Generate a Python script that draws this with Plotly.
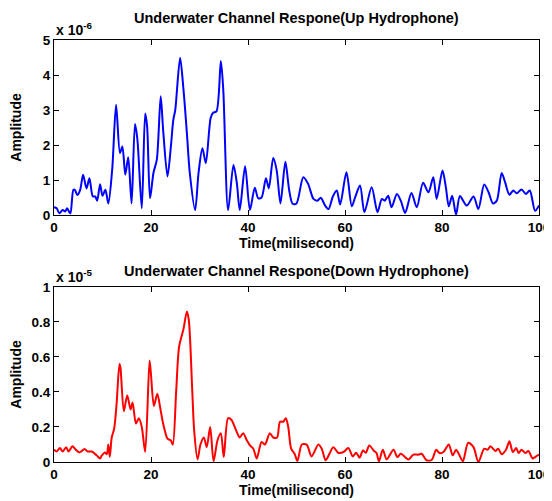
import plotly.graph_objects as go
from plotly.subplots import make_subplots

# Up hydrophone (units of 1e-6)
up_t = [0, 0.55, 1.1, 1.8, 2.3, 2.7, 3.2, 3.4, 4.0, 4.3, 4.8, 5.4, 6.0, 6.7, 7.3, 8.0, 8.5, 8.9, 9.5, 10.0,
        10.6, 11.2, 12.0, 12.8, 13.6, 14.1, 14.7, 15.3, 16.0, 16.7, 17.2, 18.1, 18.8, 19.2, 19.8, 20.5,
        21.2, 22.0, 22.5, 23.4, 24.1, 24.6, 25.0, 26.0, 26.7, 27.4, 28.0, 29.1, 29.8, 30.6, 31.3, 32.3,
        32.8, 33.5, 34.4, 34.9, 35.9, 37.0, 37.7, 38.3, 39.4, 40.4, 41.4, 42.1, 42.8, 43.7, 44.3, 45.2,
        45.9, 46.7, 47.7, 48.5, 49.2, 50.0, 51.4, 52.4, 53.5, 54.3, 55.0, 55.9, 56.6, 57.5, 58.3, 59.0,
        60.3, 61.4, 62.1, 63.1, 64.0, 65.5, 66.7, 67.6, 68.2, 68.9, 69.6, 70.7, 71.5, 72.4, 73.7, 74.8,
        76.1, 77.2, 78.2, 78.9, 80.1, 80.8, 81.4, 82.1, 82.9, 83.7, 85.1, 86.5, 87.5, 88.7, 89.6, 90.5,
        91.3, 92.3, 93.0, 93.9, 94.7, 95.4, 96.4, 97.3, 98.1, 99.2, 100]
up_amp = [0.22, 0.19, 0.05, 0.14, 0.10, 0.19, 0.07, 0.05, 0.72, 0.72, 0.57, 0.72, 1.15, 0.76, 1.05, 0.53, 0.53, 0.41, 0.88, 0.55,
          0.72, 0.33, 1.3, 3.15, 1.77, 1.96, 1.15, 1.65, 0.33, 2.6, 2.15, 0.19, 2.9, 2.53, 0.48, 1.2,
          1.58, 3.39, 2.44, 1.1, 1.96, 2.72, 3.0, 4.49, 3.58, 2.34, 1.2, 0.14, 1.2, 1.91, 1.48, 2.77,
          2.92, 2.96, 4.4, 3.58, 0.14, 1.43, 0.91, 0.14, 1.39, 0.14, 0.78, 0.48, 0.5, 1.05, 0.76, 1.63,
          1.29, 0.33, 1.52, 0.7, 0.32, 0.33, 1.08, 0.89, 0.46, 0.41, 0.49, 0.27, 0.17, 0.53, 0.7, 0.3,
          1.22, 0.25, 0.51, 0.84, 0.08, 0.79, 0.08, 0.46, 0.41, 0.55, 0.22, 0.6, 0.41, 0.06, 0.63, 0.22,
          0.92, 0.65, 1.08, 0.46, 1.27, 0.79, 0.25, 0.55, 0.01, 0.54, 0.27, 0.53, 0.17, 0.87, 0.65, 0.33,
          0.41, 1.2, 0.94, 0.58, 0.7, 0.62, 0.73, 0.6, 0.7, 0.12, 0.27]

# Down hydrophone (units of 1e-5)
down_t = [0, 0.55, 1.2, 1.8, 2.5, 3.0, 3.8, 4.5, 5.2, 5.6, 6.3, 6.9, 7.8, 8.5, 8.9, 9.5, 9.8, 10.5, 10.9, 11.2,
          11.5, 11.9, 12.4, 12.9, 13.5, 13.7, 14.4, 15.1, 15.8, 16.2, 16.9, 17.5, 18.1, 18.8, 19.7, 20.0,
          20.6, 21.3, 21.9, 22.5, 23.4, 24.1, 24.5, 25.2, 25.8, 26.7, 27.4, 27.8, 28.5, 28.9, 29.6, 30.2,
          30.9, 31.5, 32.2, 32.9, 33.7, 34.4, 35.0, 35.9, 36.6, 37.7, 38.3, 39.0, 39.7, 40.4, 41.1, 41.8,
          42.8, 43.5, 44.5, 45.2, 46.0, 46.6, 47.3, 47.8, 48.3, 48.9, 49.6, 50.2, 51.1, 52.1, 53.1, 54.5,
          55.2, 56.0, 56.8, 57.6, 58.6, 59.7, 60.7, 61.6, 62.3, 63.0, 63.7, 64.3, 65.0, 65.9, 66.5, 67.0,
          67.8, 68.6, 70.0, 70.8, 71.5, 73.1, 74.1, 75.1, 75.8, 76.8, 77.9, 78.8, 79.5, 80.3, 81.4, 82.2,
          82.9, 83.5, 84.3, 85.4, 86.5, 87.5, 88.7, 89.4, 90.0, 91.0, 91.6, 92.3, 93.2, 93.9, 94.6, 95.3,
          95.8, 96.4, 97.2, 97.8, 98.7, 99.2, 100]
down_amp = [0.07, 0.06, 0.08, 0.06, 0.085, 0.06, 0.09, 0.07, 0.055, 0.06, 0.075, 0.06, 0.06, 0.045, 0.035, 0.02, 0.035, 0.055, 0.045, 0.1,
            0.03, 0.14, 0.19, 0.33, 0.56, 0.54, 0.29, 0.38, 0.30, 0.34, 0.22, 0.25, 0.2, 0.057, 0.58, 0.50,
            0.32, 0.39, 0.31, 0.22, 0.133, 0.123, 0.099, 0.41, 0.66, 0.76, 0.86, 0.81, 0.41, 0.18, 0.015, 0.10,
            0.14, 0.085, 0.2, 0.004, 0.123, 0.165, 0.028, 0.25, 0.24, 0.17, 0.14, 0.165, 0.127, 0.095, 0.076, 0.02,
            0.114, 0.10, 0.165, 0.14, 0.14, 0.23, 0.23, 0.25, 0.2, 0.076, 0.047, 0.006, 0.10, 0.099, 0.032, 0.10,
            0.076, 0.01, 0.047, 0.085, 0.053, 0.057, 0.08, 0.032, 0.053, 0.025, 0.066, 0.053, 0.095, 0.066, 0.051, 0.004,
            0.07, 0.015, 0.07, 0.028, 0.047, 0.015, 0.042, 0.042, 0.047, 0.01, 0.013, 0.07, 0.051, 0.057, 0.10, 0.038,
            0.07, 0.044, 0.004, 0.11, 0.085, 0.0, 0.076, 0.07, 0.09, 0.063, 0.076, 0.044, 0.07, 0.118, 0.057, 0.08,
            0.051, 0.07, 0.051, 0.063, 0.02, 0.028, 0.042]

x_ticks = [0, 20, 40, 60, 80, 100]
up_ticks = [0, 1, 2, 3, 4, 5]
down_ticks = [0, 0.2, 0.4, 0.6, 0.8, 1]
down_ticktext = ["0", "0.2", "0.4", "0.6", "0.8", "1"]

FONT = "Liberation Sans, Arial, sans-serif"
BOLD14 = dict(family=FONT, size=14, color="black", weight="bold")

fig = make_subplots(rows=2, cols=1, vertical_spacing=0.1706)
fig.add_trace(go.Scatter(x=up_t, y=up_amp, mode="lines",
                         line=dict(color="#0000ff", width=2, shape="spline", smoothing=0.8)), row=1, col=1)
fig.add_trace(go.Scatter(x=down_t, y=down_amp, mode="lines",
                         line=dict(color="#ff0000", width=2, shape="spline", smoothing=0.8)), row=2, col=1)

axis_common = dict(showline=True, linecolor="black", linewidth=1, mirror="ticks", ticks="inside",
                   ticklen=5, tickcolor="black", showgrid=False, zeroline=False, automargin=False,
                   tickfont=dict(family=FONT, size=13.5, color="black", weight="bold"))

for r in (1, 2):
    fig.update_xaxes(range=[0, 100], tickvals=x_ticks, row=r, col=1,
                     title=dict(text="Time(milisecond)", standoff=0, font=BOLD14),
                     **axis_common)
fig.update_yaxes(range=[0, 5], tickvals=up_ticks, row=1, col=1,
                 title=dict(text="Amplitude", standoff=18, font=BOLD14), **axis_common)
fig.update_yaxes(range=[0, 1], tickvals=down_ticks, ticktext=down_ticktext, row=2, col=1,
                 title=dict(text="Amplitude", standoff=18, font=BOLD14), **axis_common)

fig.update_layout(
    width=552, height=493,
    margin=dict(l=46, r=21, t=32, b=39, autoexpand=False),
    paper_bgcolor="white", plot_bgcolor="white",
    showlegend=False,
    font=dict(family=FONT, color="black"),
    annotations=[
        dict(text="Underwater Channel Respone(Up Hydrophone)", xref="paper", yref="paper",
             x=0.5, y=1.0, yshift=12, xanchor="center", yanchor="bottom", showarrow=False,
             font=dict(family=FONT, size=14.5, color="black", weight="bold")),
        dict(text="Underwater Channel Respone(Down Hydrophone)", xref="paper", yref="paper",
             x=0.5, y=0.4147, yshift=6, xanchor="center", yanchor="bottom", showarrow=False,
             font=dict(family=FONT, size=14.5, color="black", weight="bold")),
        dict(text="x 10<sup>-6</sup>", xref="paper", yref="paper",
             x=0.0, y=1.0, xanchor="left", yanchor="bottom", showarrow=False, yshift=0,
             font=dict(family=FONT, size=14, color="black", weight="bold")),
        dict(text="x 10<sup>-5</sup>", xref="paper", yref="paper",
             x=0.0, y=0.4147, xanchor="left", yanchor="bottom", showarrow=False, yshift=0,
             font=dict(family=FONT, size=14, color="black", weight="bold")),
    ],
)

fig.write_html("out.html")
